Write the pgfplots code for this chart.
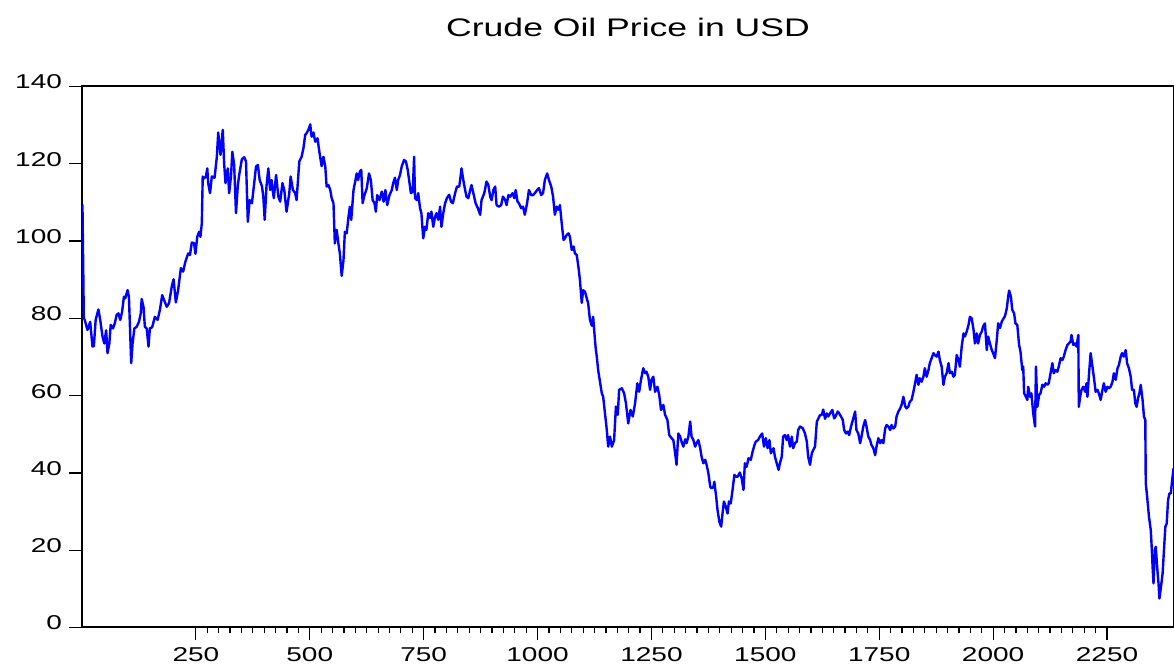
\documentclass[border=0pt]{standalone}
\usepackage{fontspec}
\setmainfont{Liberation Sans}[FakeStretch=1.4]
\usepackage{pgfplots}
\pgfplotsset{compat=1.18}
\begin{document}
\begin{tikzpicture}
\begin{axis}[name=ax, scale only axis, width=546pt, height=270.5pt,
  xmin=0, xmax=2397, ymin=0, ymax=140,
  xtick={250,500,...,2250}, ytick={0,20,...,140},
  minor x tick num=9,
  tick align=outside, xtick pos=bottom, ytick pos=left,
  major tick length=6.5pt, minor tick length=3pt,
  axis line style={line width=1pt},
  every tick/.style={black, line width=0.6pt},
  ticklabel style={font=\fontsize{10}{12}\selectfont},
  yticklabel style={yshift=2.2pt},
  /pgf/number format/assume math mode=true,
  /pgf/number format/1000 sep={},
  clip=true]
\addplot[color={rgb,255:red,0;green,0;blue,255}, line width=1.2pt, line join=round] coordinates {
(1,109.5)(4,80.0)(6,79.6)(12,77.0)(18,79.1)(23,72.7)(26,72.8)(30,79.6)(36,82.3)(40,79.6)
(45,75.3)(49,73.5)(53,76.9)(56,71.0)(60,73.5)(63,78.3)(68,77.4)(72,78.7)(76,80.9)(80,81.3)
(84,79.6)(88,81.7)(92,85.6)(95,85.2)(100,87.3)(103,85.6)(108,68.4)(111,73.5)(115,77.4)(120,77.8)
(125,79.1)(129,81.3)(131,85.0)(135,83.0)(138,77.8)(142,77.4)(146,72.7)(149,77.4)(154,77.7)(160,80.4)
(166,79.6)(171,82.2)(176,86.0)(180,84.8)(186,83.0)(191,83.9)(197,88.2)(201,90.1)(206,84.1)(211,87.3)
(217,93.0)(222,92.1)(227,94.7)(233,96.8)(237,96.4)(241,99.6)(246,99.5)(249,96.7)(253,101.1)(257,102.4)
(260,101.1)(263,104.6)(265,116.7)(268,116.2)(272,116.7)(275,118.8)(277,115.0)(281,112.4)(285,116.7)(291,116.4)
(296,121.8)(299,128.1)(304,122.3)(309,128.8)(312,120.1)(315,115.0)(320,118.8)(323,112.4)(327,116.7)(330,123.1)
(334,119.7)(338,107.2)(342,114.3)(345,117.1)(351,121.2)(356,121.7)(360,120.6)(364,105.0)(368,110.6)(373,109.8)
(378,115.0)(382,119.3)(386,119.7)(390,115.8)(395,114.2)(398,111.5)(401,105.5)(405,114.2)(409,118.8)(413,113.2)
(416,115.8)(421,111.1)(426,117.1)(431,111.5)(435,110.2)(440,115.0)(444,113.2)(449,107.6)(455,112.4)(458,116.7)
(463,113.2)(468,112.4)(471,110.6)(477,120.6)(482,121.8)(486,124.0)(490,127.5)(493,127.9)(497,128.8)(501,130.2)
(504,127.0)(508,128.1)(512,125.7)(517,126.6)(521,123.1)(526,119.4)(530,121.8)(534,119.3)(537,114.1)(541,114.5)
(545,113.2)(548,111.1)(552,109.8)(555,99.4)(559,102.9)(563,99.2)(566,96.8)(570,91.0)(574,95.1)(577,102.4)
(581,102.0)(585,106.3)(588,108.9)(591,105.5)(596,113.2)(599,115.0)(603,117.5)(606,115.8)(610,118.0)(613,118.4)
(616,109.8)(620,111.9)(625,113.6)(630,117.5)(634,115.8)(638,110.6)(642,109.8)(645,107.6)(648,111.9)(653,110.6)
(658,112.8)(662,110.2)(666,113.2)(670,109.3)(675,111.9)(680,113.2)(683,115.0)(687,116.4)(691,113.2)(694,115.8)
(698,117.1)(702,119.4)(707,121.0)(711,120.6)(715,118.4)(718,115.8)(722,112.4)(726,112.8)(729,121.8)(731,111.1)
(735,110.6)(738,112.4)(742,108.5)(745,107.2)(749,100.7)(753,103.7)(756,102.9)(760,107.2)(764,106.0)(767,107.6)
(771,103.7)(775,106.3)(778,107.2)(782,105.5)(786,108.9)(789,103.7)(793,107.2)(797,109.8)(801,111.1)(806,112.0)
(810,110.2)(814,109.8)(819,112.4)(823,114.1)(828,114.1)(831,116.7)(833,118.8)(837,115.8)(841,113.2)(844,111.5)
(848,111.1)(852,113.2)(855,114.5)(859,112.4)(864,109.8)(869,108.5)(874,106.8)(877,110.6)(883,112.4)(888,115.4)
(892,114.5)(896,111.5)(899,110.6)(903,113.2)(907,114.1)(910,109.3)(915,108.9)(920,109.3)(924,111.5)(929,110.6)
(932,109.3)(936,111.9)(940,111.5)(945,112.4)(949,111.1)(952,113.2)(956,110.2)(959,109.8)(964,108.5)(968,108.9)
(972,106.8)(977,109.8)(981,113.2)(986,111.9)(990,111.9)(994,112.4)(999,113.2)(1003,113.7)(1008,111.9)(1012,112.4)
(1016,115.8)(1021,117.5)(1025,115.8)(1030,114.1)(1034,111.5)(1038,106.8)(1042,108.9)(1046,108.1)(1049,109.3)(1053,104.6)
(1057,100.3)(1060,100.7)(1064,101.6)(1068,102.0)(1071,101.1)(1075,97.7)(1079,98.6)(1082,96.8)(1086,96.4)(1090,93.0)
(1093,89.9)(1097,84.0)(1100,87.3)(1104,86.9)(1108,85.2)(1111,83.9)(1115,79.6)(1119,78.1)(1122,80.4)(1126,74.4)
(1128,71.8)(1130,70.1)(1133,66.6)(1137,63.6)(1141,60.6)(1144,59.7)(1148,55.4)(1152,51.1)(1155,46.8)(1159,49.4)
(1163,46.8)(1168,48.5)(1172,57.2)(1176,55.0)(1179,61.5)(1185,61.9)(1190,60.6)(1194,58.0)(1199,52.8)(1204,56.3)
(1209,54.6)(1214,58.0)(1219,63.2)(1223,61.0)(1227,64.1)(1232,67.1)(1236,65.8)(1239,66.2)(1243,64.9)(1247,61.5)
(1250,64.1)(1254,64.9)(1258,61.0)(1263,62.3)(1267,60.2)(1271,56.3)(1276,57.6)(1280,55.0)(1285,53.7)(1289,49.8)
(1294,49.0)(1298,48.5)(1302,45.1)(1305,42.1)(1309,50.2)(1313,49.4)(1316,48.1)(1320,46.8)(1324,48.7)(1327,47.7)
(1331,49.4)(1335,53.3)(1338,49.4)(1342,48.5)(1346,46.8)(1349,47.7)(1353,48.5)(1357,46.4)(1360,44.2)(1364,42.5)
(1368,43.4)(1371,42.1)(1375,39.9)(1379,36.4)(1382,36.0)(1386,36.4)(1388,37.7)(1392,33.9)(1395,30.4)(1399,27.4)
(1403,26.1)(1406,29.5)(1409,32.6)(1413,31.3)(1417,29.5)(1420,32.6)(1424,32.1)(1428,35.6)(1432,39.5)(1436,39.0)
(1439,39.0)(1444,40.1)(1448,38.6)(1452,35.6)(1455,42.5)(1459,41.6)(1463,43.8)(1468,43.4)(1472,45.5)(1476,47.2)
(1479,48.1)(1484,48.5)(1488,49.4)(1493,50.2)(1497,46.8)(1501,49.0)(1505,46.4)(1509,48.5)(1512,45.1)(1518,46.4)
(1521,44.2)(1525,42.5)(1529,40.8)(1532,42.5)(1536,44.2)(1539,49.4)(1543,49.8)(1547,48.5)(1550,49.8)(1554,46.8)
(1558,49.4)(1561,46.4)(1565,47.7)(1569,48.1)(1572,51.1)(1576,52.0)(1582,51.6)(1587,50.2)(1591,48.1)(1594,44.2)
(1598,42.1)(1602,45.1)(1605,45.9)(1609,46.8)(1613,53.3)(1616,54.0)(1620,55.0)(1624,55.0)(1627,56.4)(1631,54.0)
(1635,55.4)(1638,54.6)(1642,55.4)(1647,56.3)(1651,54.1)(1654,54.6)(1659,55.9)(1662,55.4)(1666,54.6)(1670,53.7)
(1673,51.1)(1677,50.2)(1681,50.7)(1684,49.8)(1688,52.0)(1692,53.7)(1697,55.9)(1700,51.1)(1704,50.2)(1708,47.7)
(1711,49.4)(1715,52.0)(1719,53.7)(1722,52.0)(1726,49.4)(1730,48.5)(1733,47.2)(1737,46.4)(1741,44.6)(1744,46.8)
(1748,49.0)(1752,47.7)(1755,48.5)(1759,47.7)(1763,51.5)(1766,52.4)(1770,52.0)(1774,51.1)(1777,52.4)(1781,51.5)
(1785,52.0)(1788,54.6)(1792,55.9)(1796,56.7)(1799,57.6)(1803,59.7)(1807,57.2)(1810,56.7)(1814,57.2)(1817,58.4)
(1821,58.9)(1825,61.0)(1828,62.8)(1832,65.4)(1836,62.8)(1839,64.5)(1843,63.6)(1847,64.9)(1850,67.1)(1854,64.9)
(1858,66.6)(1861,68.4)(1865,69.7)(1869,71.0)(1872,70.5)(1876,70.1)(1880,71.4)(1883,69.2)(1887,67.5)(1891,62.8)
(1894,64.9)(1898,65.8)(1902,68.4)(1905,65.8)(1909,66.2)(1913,64.9)(1916,65.4)(1920,70.5)(1924,69.2)(1927,67.5)
(1931,72.7)(1935,76.1)(1938,75.3)(1942,76.6)(1946,78.3)(1949,80.4)(1953,80.0)(1957,77.0)(1960,73.5)(1964,76.1)
(1967,73.5)(1971,75.7)(1975,76.6)(1978,77.9)(1982,78.7)(1986,71.8)(1989,75.3)(1993,73.5)(1997,71.8)(2000,71.0)
(2004,69.7)(2008,74.4)(2011,78.7)(2015,77.5)(2019,79.2)(2022,79.8)(2026,80.6)(2030,82.6)(2033,85.6)(2035,87.2)
(2039,85.6)(2042,82.2)(2046,81.3)(2049,78.7)(2053,78.3)(2057,73.1)(2060,71.4)(2064,66.6)(2066,67.5)(2068,60.6)
(2072,59.7)(2075,58.9)(2077,62.3)(2081,59.7)(2084,60.6)(2088,55.4)(2092,52.0)(2094,67.5)(2097,57.1)(2101,60.2)
(2104,60.6)(2108,62.8)(2112,62.3)(2115,63.2)(2119,62.8)(2122,63.2)(2126,65.8)(2130,68.4)(2133,65.8)(2137,66.6)
(2141,66.2)(2144,67.5)(2148,69.7)(2152,69.2)(2155,70.1)(2159,71.8)(2163,73.1)(2166,73.5)(2170,74.0)(2172,75.7)
(2176,73.1)(2180,73.5)(2183,72.7)(2187,75.7)(2188,57.1)(2191,59.7)(2194,61.5)(2198,62.3)(2202,61.0)(2205,63.2)
(2207,59.7)(2210,64.9)(2214,71.0)(2218,67.5)(2221,64.9)(2225,61.0)(2229,61.5)(2232,60.6)(2236,58.9)(2240,61.5)
(2243,63.2)(2247,61.0)(2251,62.3)(2254,61.9)(2258,62.3)(2262,63.6)(2265,65.8)(2269,64.1)(2273,67.1)(2276,67.9)
(2280,70.1)(2283,71.0)(2287,70.1)(2291,71.8)(2294,68.4)(2298,67.1)(2302,64.9)(2305,61.5)(2309,61.5)(2312,58.0)
(2315,57.1)(2318,59.3)(2321,60.6)(2324,62.8)(2328,58.9)(2331,54.6)(2334,53.7)(2335,37.3)(2338,33.9)(2342,28.7)
(2346,25.2)(2348,20.9)(2350,15.7)(2352,11.4)(2355,20.1)(2357,20.9)(2360,15.7)(2363,11.4)(2365,7.5)(2368,10.1)
(2372,14.0)(2375,20.1)(2378,26.1)(2381,26.9)(2384,33.0)(2387,34.7)(2390,34.7)(2393,38.2)(2396,41.2)
};
\end{axis}
\node[font=\fontsize{12.7}{15}\selectfont] at ([yshift=29.75pt]ax.north) {Crude Oil Price in USD};
\pgfresetboundingbox
\path[use as bounding box] ([xshift=-41pt,yshift=-20.25pt]ax.south west) rectangle ([yshift=43.25pt]ax.north east);
\end{tikzpicture}
\end{document}
